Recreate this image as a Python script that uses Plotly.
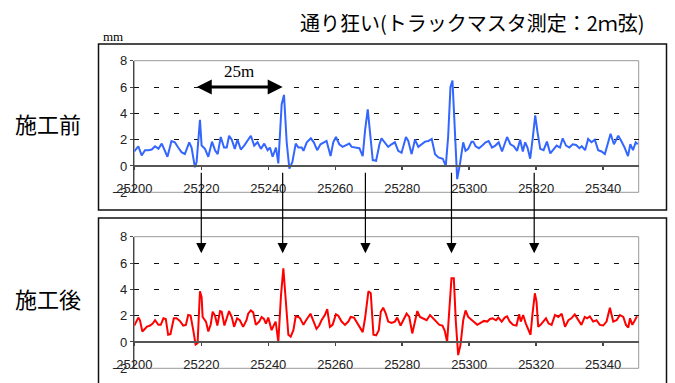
import plotly.graph_objects as go

W, H = 675, 383

# ---- data ----
before_dist = [25200.0, 25201.2, 25202.2, 25203.2, 25204.2, 25205.2, 25206.2, 25207.2, 25208.2, 25209.9,
               25211.1, 25212.1, 25213.1, 25214.1, 25215.1, 25216.4, 25217.1, 25218.1, 25218.6, 25219.6,
               25220.1, 25221.1, 25222.1, 25223.2, 25224.1, 25224.9, 25225.8, 25226.8, 25227.6, 25228.3,
               25229.1, 25230.0, 25230.8, 25231.8, 25232.8, 25233.8, 25234.8, 25235.8, 25236.8, 25237.8,
               25238.8, 25239.8, 25240.5, 25241.3, 25242.3, 25243.0, 25244.0, 25244.7, 25245.5, 25246.3,
               25247.2, 25248.2, 25249.0, 25250.0, 25250.5, 25251.5, 25252.7, 25253.6, 25254.6, 25255.6,
               25256.6, 25257.4, 25258.6, 25259.4, 25260.2, 25261.2, 25262.2, 25263.2, 25264.2, 25264.9,
               25265.9, 25267.2, 25268.2, 25268.9, 25269.7, 25270.4, 25271.2, 25272.2, 25273.2, 25273.8,
               25274.8, 25275.8, 25276.8, 25277.8, 25278.8, 25279.8, 25281.1, 25281.8, 25282.8, 25283.8,
               25284.8, 25285.8, 25286.8, 25287.8, 25288.8, 25289.8, 25290.8, 25292.1, 25293.0, 25293.7,
               25294.4, 25295.0, 25295.7, 25296.4, 25297.2, 25298.2, 25298.9, 25299.7, 25300.7, 25301.2,
               25301.9, 25302.9, 25303.9, 25304.9, 25305.8, 25306.8, 25307.8, 25308.8, 25309.8, 25310.5,
               25311.3, 25312.3, 25313.3, 25314.3, 25315.2, 25316.0, 25316.7, 25317.4, 25318.2, 25319.0,
               25319.7, 25320.4, 25321.2, 25322.2, 25323.2, 25324.2, 25325.1, 25326.1, 25327.1, 25327.9,
               25328.9, 25329.9, 25330.9, 25331.9, 25332.9, 25333.6, 25334.6, 25335.5, 25336.5, 25337.5,
               25338.5, 25339.5, 25340.5, 25341.5, 25342.2, 25343.2, 25344.5, 25345.4, 25346.4, 25347.4,
               25348.1, 25348.9, 25349.7, 25350.3]
before_val = [1.1, 1.5, 0.8, 1.2, 1.2, 1.25, 1.5, 1.3, 1.7, 0.7,
              1.9, 1.8, 1.4, 1.05, 0.9, 1.8, 1.4, -0.1, 0.3, 3.5,
              1.55, 1.3, 0.7, 1.85, 1.2, 0.9, 2.2, 1.4, 1.4, 2.3,
              2.0, 1.3, 2.0, 1.25, 1.55, 1.9, 2.3, 1.55, 1.8, 1.3,
              1.7, 1.2, 1.4, 0.7, 1.4, 0.2, 4.7, 5.4, 1.8, -0.2,
              0.3, 1.7, 1.4, 1.4, 1.15, 1.8, 2.1, 1.8, 1.2, 1.65,
              1.8, 1.9, 0.75, 1.8, 2.2, 1.65, 1.45, 1.55, 1.7, 1.45,
              1.4, 1.35, 0.75, 2.7, 4.3, 2.55, 0.45, 0.4, 1.65, 2.1,
              1.8, 1.45, 1.65, 1.8, 1.15, 1.0, 2.2, 1.9, 0.9, 2.0,
              1.45, 1.65, 1.85, 1.9, 2.05, 0.9, 0.65, 0.55, 0.0, 2.2,
              6.0, 6.5, 2.2, -1.0, 0.1, 1.8, 1.15, 1.3, 1.85, 1.85,
              1.5, 1.35, 1.55, 1.8, 1.9, 1.4, 1.55, 1.8, 1.1, 1.65,
              2.2, 1.65, 1.5, 1.15, 2.0, 1.1, 1.8, 1.4, 0.55, 2.2,
              3.85, 2.55, 1.3, 1.2, 1.85, 0.95, 1.2, 1.55, 1.4, 2.1,
              1.55, 1.4, 1.65, 1.6, 1.35, 1.5, 1.2, 2.05, 1.8, 2.0,
              1.2, 1.1, 0.9, 1.9, 2.45, 1.65, 2.3, 1.9, 1.4, 0.75,
              1.65, 1.2, 1.8, 1.65]

after_dist = [25200.0, 25200.7, 25201.2, 25201.7, 25202.4, 25203.2, 25203.7, 25204.7, 25205.5, 25206.2,
              25207.2, 25207.9, 25208.7, 25209.4, 25210.1, 25210.8, 25211.8, 25212.6, 25213.6, 25214.6,
              25215.4, 25216.1, 25216.8, 25217.6, 25218.3, 25218.9, 25219.6, 25220.1, 25220.4, 25221.4,
              25222.1, 25222.8, 25223.4, 25224.1, 25224.8, 25225.6, 25226.1, 25226.9, 25227.6, 25228.3,
              25229.1, 25229.8, 25230.7, 25231.5, 25232.5, 25233.5, 25234.0, 25234.8, 25235.5, 25236.3,
              25237.3, 25238.0, 25238.7, 25239.3, 25240.0, 25241.0, 25241.7, 25242.2, 25243.0, 25243.8,
              25244.5, 25245.2, 25246.0, 25246.7, 25247.5, 25248.2, 25249.0, 25249.5, 25250.5, 25251.3,
              25252.0, 25252.6, 25253.4, 25254.4, 25255.2, 25255.9, 25256.9, 25257.6, 25258.4, 25259.2,
              25260.2, 25260.9, 25261.9, 25262.9, 25263.9, 25264.6, 25265.6, 25266.6, 25267.4, 25268.2,
              25268.9, 25269.9, 25270.6, 25271.4, 25272.2, 25273.0, 25273.6, 25274.3, 25275.1, 25275.8,
              25276.8, 25277.8, 25278.5, 25279.5, 25280.3, 25281.3, 25282.1, 25283.0, 25283.8, 25284.5,
              25285.3, 25286.3, 25287.3, 25288.3, 25289.1, 25290.1, 25291.1, 25292.0, 25292.7, 25293.4,
              25294.2, 25294.7, 25295.4, 25296.0, 25296.7, 25297.4, 25298.2, 25298.9, 25299.7, 25300.7,
              25301.4, 25302.4, 25303.4, 25304.4, 25305.4, 25306.2, 25307.0, 25308.0, 25308.7, 25309.7,
              25310.6, 25311.3, 25312.1, 25313.1, 25314.1, 25314.9, 25315.4, 25316.1, 25316.9, 25317.6,
              25318.3, 25318.9, 25319.6, 25320.1, 25320.6, 25321.3, 25322.1, 25322.9, 25323.7, 25324.6,
              25325.6, 25326.6, 25327.6, 25328.6, 25329.6, 25330.5, 25331.5, 25332.5, 25333.5, 25334.5,
              25335.2, 25336.0, 25337.0, 25338.0, 25339.0, 25340.0, 25341.0, 25342.0, 25343.0, 25344.0,
              25345.0, 25346.0, 25346.8, 25347.5, 25348.0, 25348.7, 25349.5, 25350.1]
after_val = [1.25, 1.65, 1.85, 1.65, 0.8, 1.0, 1.15, 1.25, 1.4, 1.65,
             1.3, 1.3, 1.8, 1.75, 0.55, 0.6, 1.8, 1.8, 1.6, 1.25,
             1.3, 2.05, 2.0, 0.9, -0.2, -0.1, 3.85, 3.4, 1.9, 1.55,
             0.8, 1.3, 2.3, 2.0, 1.25, 2.35, 2.3, 1.25, 1.75, 2.35,
             1.9, 1.15, 1.8, 1.65, 1.15, 1.65, 2.15, 2.4, 2.25, 1.3,
             1.55, 1.9, 1.75, 1.4, 1.85, 0.9, 1.3, 1.55, 0.0, 3.55,
             5.6, 3.05, 0.55, 0.4, 0.9, 1.95, 1.9, 1.8, 1.3, 1.65,
             1.9, 2.15, 1.65, 1.0, 1.25, 1.65, 2.05, 2.5, 1.15, 1.3,
             2.1, 2.0, 1.55, 1.3, 1.55, 1.9, 1.85, 1.4, 1.15, 0.75,
             1.8, 3.85, 3.7, 0.55, 0.5, 0.9, 2.3, 2.6, 2.15, 1.55,
             1.45, 1.55, 1.85, 1.25, 1.65, 2.15, 1.9, 0.65, 1.55, 2.35,
             1.9, 1.75, 1.65, 2.05, 1.85, 1.55, 1.3, 1.25, 0.85, 0.0,
             3.05, 4.85, 4.85, 1.55, -1.0, -0.2, 1.65, 2.4, 1.9, 1.65,
             1.55, 1.3, 1.45, 1.6, 1.55, 1.75, 1.8, 1.65, 1.85, 1.55,
             1.85, 1.95, 1.55, 1.3, 1.25, 2.1, 1.55, 2.05, 1.4, 0.9,
             0.55, 2.15, 3.7, 3.05, 1.15, 1.3, 1.55, 1.8, 1.4, 1.3,
             2.05, 1.9, 2.15, 1.15, 1.65, 1.8, 2.1, 1.65, 1.3, 1.9,
             1.8, 1.95, 1.55, 1.65, 1.3, 1.25, 1.55, 2.6, 1.55, 1.65,
             2.05, 1.9, 1.3, 1.1, 1.8, 1.3, 1.65, 1.95]

x_ticks = [25200, 25220, 25240, 25260, 25280, 25300, 25320, 25340]
y_ticks = [-2, 0, 2, 4, 6, 8]
spike_pos = [25220.0, 25244.3, 25269.0, 25294.7, 25319.4]
span_start, span_end = 25218.2, 25244.3

title_text = "通り狂い(トラックマスタ測定：2ｍ弦)"
label_before = "施工前"
label_after = "施工後"


def fx(p):
    return p / W


def fy(p):
    return 1 - p / H


x_dom = [fx(134.3), fx(638.7)]
x_rng = [25200, 25350.6]
sans = "Liberation Sans, Arial, sans-serif"
cjk = "Noto Sans CJK JP"
serif = "Liberation Serif, Times New Roman, serif"

fig = go.Figure()
fig.add_trace(go.Scatter(x=before_dist, y=before_val, mode="lines",
                         line=dict(color="#3366ff", width=2), xaxis="x", yaxis="y",
                         showlegend=False, hoverinfo="skip"))
fig.add_trace(go.Scatter(x=after_dist, y=after_val, mode="lines",
                         line=dict(color="#ff0000", width=2), xaxis="x2", yaxis="y2",
                         showlegend=False, hoverinfo="skip"))

xcommon = dict(domain=x_dom, range=x_rng, tickvals=x_ticks, tickformat="d", ticks="outside",
               ticklen=3, tickwidth=1.5, tickcolor="#444", showline=True, linecolor="#555",
               linewidth=2, showgrid=False, zeroline=False, anchor="free", automargin=False,
               tickfont=dict(family=sans, size=13, color="#222"), ticklabelstandoff=7)
ycommon = dict(range=[-2, 8], tickvals=y_ticks, ticks="outside", ticklen=3, tickcolor="#444",
               showline=True, linecolor="#444", linewidth=1.5, showgrid=True, automargin=False,
               gridcolor="#111", griddash="5px,15px", gridwidth=1, zeroline=False,
               tickfont=dict(family=sans, size=13, color="#222"))

fig.update_layout(
    width=W, height=H, autosize=False,
    margin=dict(l=0, r=0, t=0, b=0, pad=0, autoexpand=False),
    paper_bgcolor="white", plot_bgcolor="rgba(0,0,0,0)",
    xaxis=dict(**xcommon, position=fy(166)),
    yaxis=dict(**ycommon, domain=[fy(192.3), fy(60.7)], anchor="x"),
    xaxis2=dict(**xcommon, position=fy(342)),
    yaxis2=dict(**ycommon, domain=[fy(368.3), fy(236.7)], anchor="x2"),
)

shapes = []
for yd in ["y", "y2"]:
    xd = "x" if yd == "y" else "x2"
    shapes.append(dict(type="rect", xref=f"{xd} domain", yref=f"{yd} domain",
                       x0=0, x1=1, y0=0, y1=1, line=dict(color="#999", width=1), layer="below"))
# outer boxes
shapes.append(dict(type="rect", xref="paper", yref="paper", x0=fx(98.5), x1=fx(666.5),
                   y0=fy(210), y1=fy(44), line=dict(color="#111", width=1.5)))
shapes.append(dict(type="rect", xref="paper", yref="paper", x0=fx(98.5), x1=fx(666.5),
                   y0=fy(395), y1=fy(218), line=dict(color="#111", width=1.5)))
fig.update_layout(shapes=shapes)

ann = []
for p in spike_pos:
    ann.append(dict(x=p, y=6.75, xref="x2", yref="y2", ax=0, ay=-82, text="",
                    showarrow=True, arrowhead=2, arrowsize=1.7, arrowwidth=1.2,
                    arrowcolor="#000"))
ann.append(dict(x=span_end, y=6, xref="x", yref="y", ax=span_start, ay=6, axref="x", ayref="y",
                text="", showarrow=True, arrowhead=2, startarrowhead=2, arrowside="end+start",
                arrowsize=1, startarrowsize=1, arrowwidth=3, arrowcolor="#000"))
ann.append(dict(x=(span_start + span_end) / 2, y=7.2, xref="x", yref="y", text="25m",
                xanchor="center", yanchor="middle",
                showarrow=False, font=dict(family=serif, size=17, color="#000")))
ann.append(dict(x=fx(472), y=fy(23), xref="paper", yref="paper", text=title_text,
                xanchor="center", yanchor="middle",
                showarrow=False, font=dict(family=cjk, size=20, color="#000")))
ann.append(dict(x=fx(113), y=fy(36), xref="paper", yref="paper", text="mm",
                xanchor="center", yanchor="middle",
                showarrow=False, font=dict(family=serif, size=13, color="#000")))
ann.append(dict(x=fx(48), y=fy(123), xref="paper", yref="paper", text=label_before,
                xanchor="center", yanchor="middle",
                showarrow=False, font=dict(family=cjk, size=22, color="#000")))
ann.append(dict(x=fx(48), y=fy(298), xref="paper", yref="paper", text=label_after,
                xanchor="center", yanchor="middle",
                showarrow=False, font=dict(family=cjk, size=22, color="#000")))
fig.update_layout(annotations=ann)

fig.write_html("out.html", config={"displayModeBar": False, "staticPlot": True},
               post_script="document.body.style.margin='0';document.body.style.padding='0';"
                           "document.body.style.overflow='hidden';")
